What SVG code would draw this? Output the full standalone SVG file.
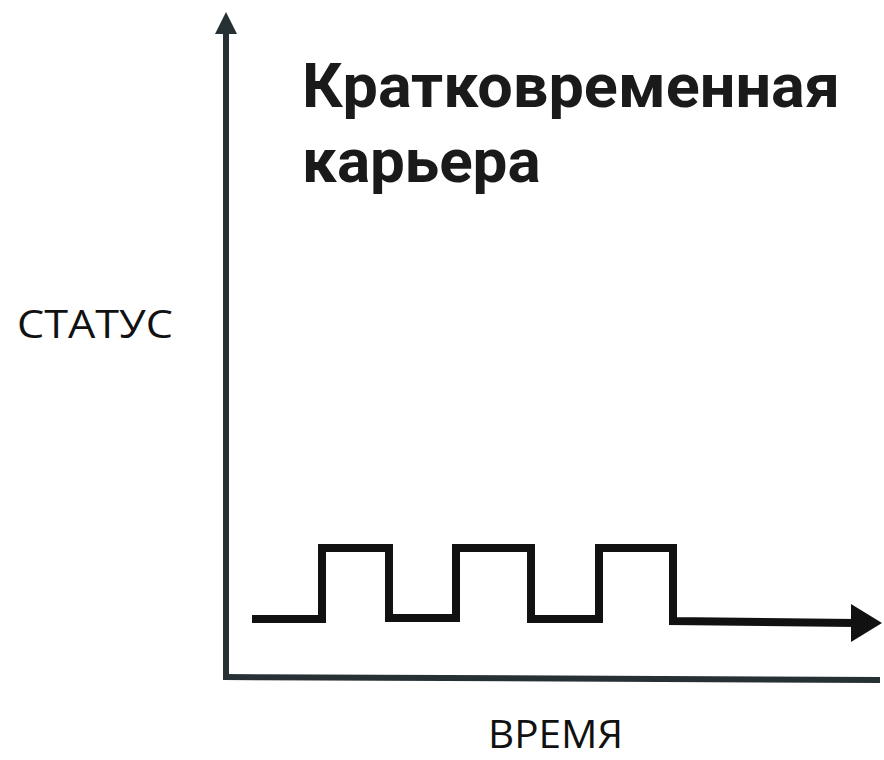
<svg xmlns="http://www.w3.org/2000/svg" width="884" height="760" viewBox="0 0 884 760">
<style>
.title{font-family:Roboto,"Liberation Sans",sans-serif;font-weight:bold;font-size:62px;fill:#1a1a1a}
.lbl{font-family:"Open Sans","Noto Sans","Liberation Sans",sans-serif;font-size:38px;fill:#111}
.axis{stroke:#263035;stroke-width:6;fill:none}
.pulse{stroke:#111;stroke-width:8;fill:none;stroke-linejoin:miter}
</style>
<rect width="884" height="760" fill="#fff"/>
<g id="connectors">
<line class="axis" x1="226" y1="30" x2="226" y2="680"/>
<polygon points="226,12 237,34 215,34" fill="#263035"/>
<polyline class="axis" points="223,677 880,680" stroke="#151515"/>
<polyline class="pulse" points="252,619 322,619 322,548 389,548 389,618 456,618 456,548 531,548 531,619 599,619 599,548 673,548 673,621 856,623"/>
<polygon points="851,604 882,623 851,642" fill="#111"/>
</g>
<g id="title">
<text class="title" x="302" y="107" textLength="538" lengthAdjust="spacingAndGlyphs">Кратковременная</text>
<text class="title" x="302" y="182">карьера</text>
</g>
<g id="status">
<text class="lbl" x="17" y="338" textLength="156" lengthAdjust="spacingAndGlyphs">СТАТУС</text>
</g>
<g id="time">
<text class="lbl" x="488" y="748" textLength="135" lengthAdjust="spacingAndGlyphs">ВРЕМЯ</text>
</g>
</svg>
